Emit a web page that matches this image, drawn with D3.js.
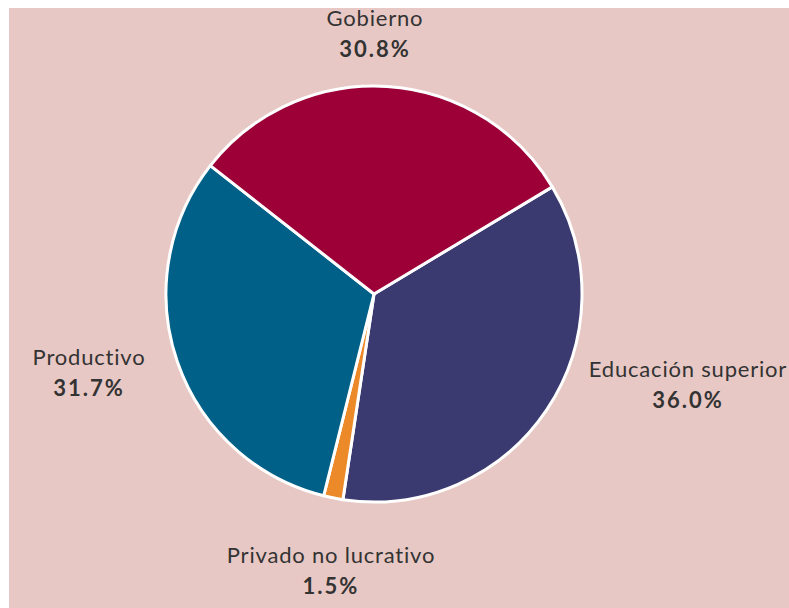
<!DOCTYPE html>
<html>
<head>
    <meta charset="utf-8">
    <script src="https://d3js.org/d3.v7.min.js"></script>
    <style>
        body {
            margin: 0;
            background-color: white;
        }

        .label {
            font-family: Lato, "Open Sans", sans-serif;
            fill: #333;
            text-anchor: middle;
        }

        .name {
            font-size: 22px;
            letter-spacing: 0.8px;
        }

        .value {
            font-size: 22px;
            font-weight: bold;
            letter-spacing: 2px;
        }
    </style>
</head>
<body>
    <div id="chart"></div>
    <script>
        const categories = ['Educación superior', 'Privado no lucrativo', 'Productivo', 'Gobierno']
        const values = [36.0, 1.5, 31.7, 30.8]
        const colors = ['#3b3a70', '#ec8a2a', '#006087', '#9c0037']
        // where each label block sits (centre x, name baseline y)
        const labelPos = [[688, 377], [331, 563], [89, 365], [375, 26]]

        const w = 789
        const h = 608
        const cx = 374
        const cy = 294
        const r = 208
        const startAngle = 59 * Math.PI / 180

        const svg = d3.select('#chart')
            .append('svg')
            .attr('width', w)
            .attr('height', h)

        svg.append('rect')
            .attr('x', 9)
            .attr('y', 8)
            .attr('width', w - 9)
            .attr('height', h - 8)
            .attr('fill', '#e8c8c4')

        const data = categories.map((c, i) => ({ name: c, value: values[i], color: colors[i], pos: labelPos[i] }))

        const pie = d3.pie()
            .sort(null)
            .value(d => d.value)
            .startAngle(startAngle)
            .endAngle(startAngle + 2 * Math.PI)

        const arc = d3.arc()
            .innerRadius(0)
            .outerRadius(r)

        const g = svg.append('g')
            .attr('transform', `translate(${cx}, ${cy})`)

        g.selectAll('path')
            .data(pie(data))
            .enter()
            .append('path')
            .attr('d', arc)
            .attr('fill', d => d.data.color)
            .attr('stroke', 'white')
            .attr('stroke-width', 3)
            .attr('stroke-linejoin', 'round')

        const labels = svg.selectAll('g.lbl')
            .data(data)
            .enter()
            .append('g')
            .attr('class', 'lbl')
            .attr('transform', d => `translate(${d.pos[0]}, ${d.pos[1]})`)

        labels.append('text')
            .attr('class', 'label name')
            .text(d => d.name)

        labels.append('text')
            .attr('class', 'label value')
            .attr('y', 31)
            .text(d => d.value.toFixed(1) + '%')
    </script>
</body>
</html>
